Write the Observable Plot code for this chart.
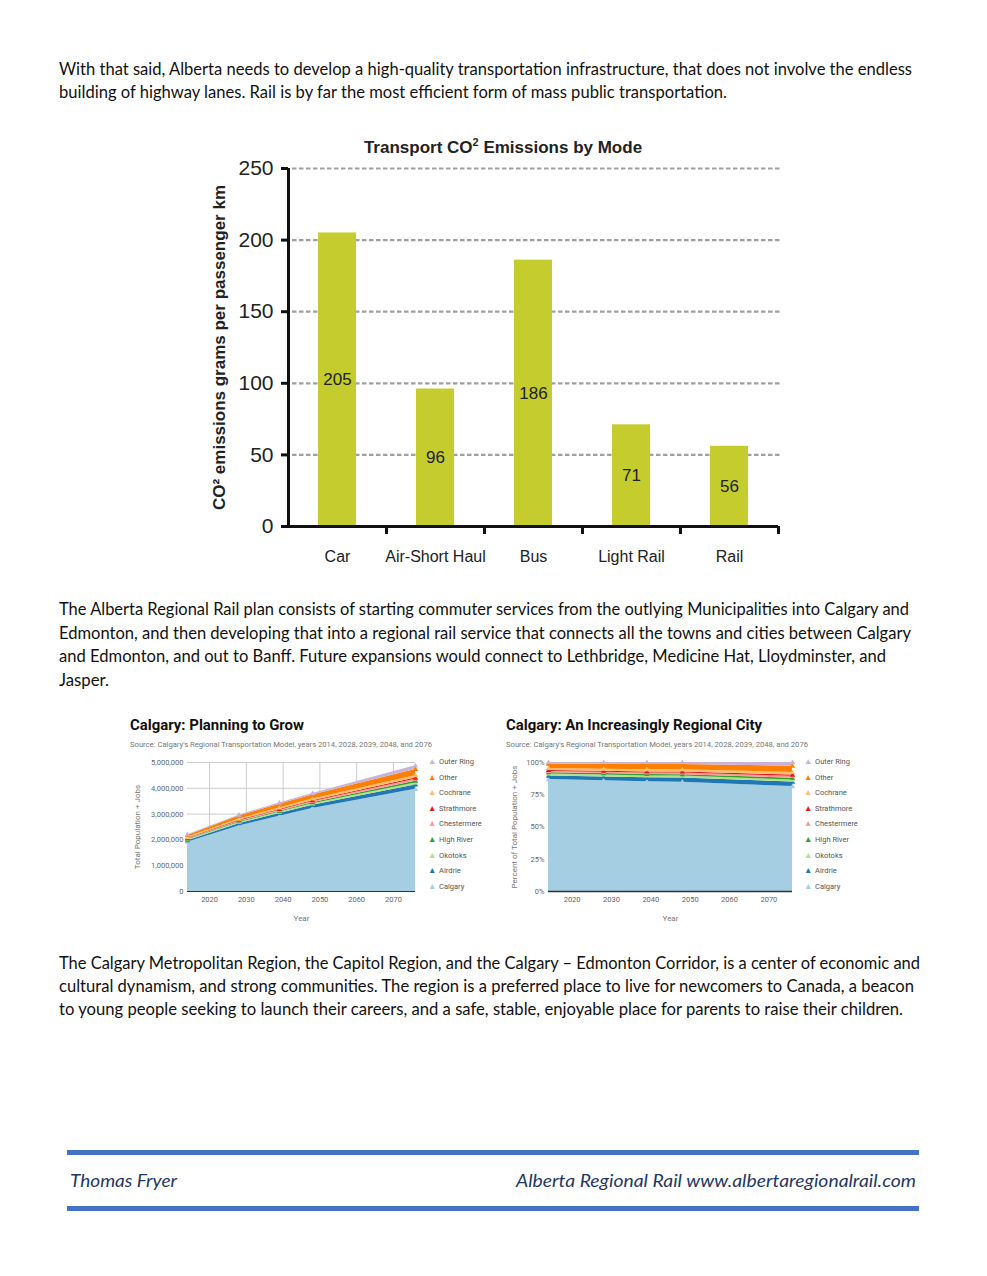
<!DOCTYPE html>
<html><head><meta charset="utf-8">
<script src="https://cdn.jsdelivr.net/npm/d3@7"></script>
<script src="https://cdn.jsdelivr.net/npm/@observablehq/plot@0.6"></script>
<style>
html,body{margin:0;padding:0;background:#fff;}
body{width:987px;height:1276px;position:relative;overflow:hidden;font-family:Lato,"Open Sans",sans-serif;}
.abs{position:absolute;}
.line{position:absolute;left:59px;white-space:nowrap;font-size:16.5px;line-height:23px;color:#111;display:inline-block;transform-origin:left center;}
.rule{position:absolute;left:67px;width:852px;height:5px;background:#4472c4;}
.foot{position:absolute;font-style:italic;font-size:17px;color:#1f3864;white-space:nowrap;transform-origin:left center;}
.stitle{position:absolute;font-family:Roboto,sans-serif;font-weight:bold;font-size:14px;color:#111;white-space:nowrap;transform-origin:left center;}
.ssub{position:absolute;font-family:Roboto,sans-serif;font-size:7.5px;color:#777;white-space:nowrap;transform-origin:left center;}
.legend{position:absolute;font-family:Roboto,sans-serif;font-size:7.5px;color:#555;}
.legend div{height:15.6px;line-height:15.6px;white-space:nowrap;}
.legend span.tri{display:inline-block;width:11px;font-size:8.5px;}
#mainTitle{position:absolute;left:0;width:1006px;text-align:center;top:136px;font-family:"Liberation Sans",Arial,sans-serif;font-weight:bold;font-size:17px;color:#222;}
#mainTitle sup{font-size:11px;}
svg [aria-label="y-axis label"]{font-weight:bold;}
.small svg [aria-label="y-axis label"], .small svg [aria-label="x-axis label"]{font-weight:normal;font-size:8px;fill:#777;}
</style></head>
<body>
<div class="line" style="top:57.5px" data-w="853">With that said, Alberta needs to develop a high-quality transportation infrastructure, that does not involve the endless</div>
<div class="line" style="top:80.5px" data-w="668">building of highway lanes. Rail is by far the most efficient form of mass public transportation.</div>

<div id="mainTitle">Transport CO<sup>2</sup> Emissions by Mode</div>
<div id="main" class="abs" style="left:190px;top:130px"></div>

<div class="line" style="top:597.5px" data-w="850">The Alberta Regional Rail plan consists of starting commuter services from the outlying Municipalities into Calgary and</div>
<div class="line" style="top:621.5px" data-w="852">Edmonton, and then developing that into a regional rail service that connects all the towns and cities between Calgary</div>
<div class="line" style="top:644.5px" data-w="827">and Edmonton, and out to Banff. Future expansions would connect to Lethbridge, Medicine Hat, Lloydminster, and</div>
<div class="line" style="top:668.5px" data-w="50">Jasper.</div>

<div class="stitle" style="left:130px;top:717px" data-w="174">Calgary: Planning to Grow</div>
<div class="ssub" style="left:130px;top:740px" data-w="302">Source: Calgary's Regional Transportation Model, years 2014, 2028, 2039, 2048, and 2076</div>
<div id="grow" class="abs small" style="left:120px;top:752px"></div>
<div id="leg1" class="legend" style="left:428px;top:754px"></div>

<div class="stitle" style="left:506px;top:717px" data-w="256">Calgary: An Increasingly Regional City</div>
<div class="ssub" style="left:506px;top:740px" data-w="302">Source: Calgary's Regional Transportation Model, years 2014, 2028, 2039, 2048, and 2076</div>
<div id="share" class="abs small" style="left:500px;top:752px"></div>
<div id="leg2" class="legend" style="left:804px;top:754px"></div>

<div class="line" style="top:951.5px" data-w="861">The Calgary Metropolitan Region, the Capitol Region, and the Calgary – Edmonton Corridor, is a center of economic and</div>
<div class="line" style="top:974.5px" data-w="855">cultural dynamism, and strong communities. The region is a preferred place to live for newcomers to Canada, a beacon</div>
<div class="line" style="top:997.5px" data-w="844">to young people seeking to launch their careers, and a safe, stable, enjoyable place for parents to raise their children.</div>

<div class="rule" style="top:1150px"></div>
<div class="foot" style="left:70px;top:1170px" data-w="107">Thomas Fryer</div>
<div class="foot" style="left:516px;top:1170px" data-w="400">Alberta Regional Rail www.albertaregionalrail.com</div>
<div class="rule" style="top:1206px"></div>

<script>
// ---- Bar chart data ----
const modes = ["Car", "Air-Short Haul", "Bus", "Light Rail", "Rail"];
const emissions = [205, 96, 186, 71, 56];
const yTicks = [0, 50, 100, 150, 200, 250];

// ---- Calgary growth data (population + jobs) ----
const years = [2014, 2028, 2039, 2048, 2076];
const regions = ["Calgary", "Airdrie", "Okotoks", "High River", "Chestermere", "Strathmore", "Cochrane", "Other", "Outer Ring"];
const calgary     = [1910000, 2540000, 2920000, 3220000, 3960000];
const airdrie     = [60000, 90000, 105000, 120000, 170000];
const okotoks     = [35000, 45000, 52000, 58000, 75000];
const highRiver   = [22000, 30000, 36000, 42000, 70000];
const chestermere = [22000, 30000, 40000, 48000, 75000];
const strathmore  = [18000, 24000, 28000, 31000, 45000];
const cochrane    = [33000, 48000, 60000, 66000, 95000];
const other       = [75000, 115000, 140000, 155000, 240000];
const outerRing   = [27000, 38000, 52000, 58000, 140000];
const regionColors = ["#a6cee3", "#1f78b4", "#b2df8a", "#33a02c", "#fb9a99", "#e31a1c", "#fdbf6f", "#ff7f00", "#cab2d6"];
const popTicks = [0, 1000000, 2000000, 3000000, 4000000, 5000000];
const yearTicks = [2020, 2030, 2040, 2050, 2060, 2070];
const shareTicks = [0, 0.25, 0.5, 0.75, 1];

const barData = modes.map((m, i) => ({mode: m, value: emissions[i]}));
const series = [calgary, airdrie, okotoks, highRiver, chestermere, strathmore, cochrane, other, outerRing];
const rows = [];
regions.forEach((r, j) => years.forEach((y, i) => rows.push({region: r, year: y, value: series[j][i]})));

const step = 490 / modes.length;

const main = Plot.plot({
  width: 600, height: 440,
  marginLeft: 98, marginRight: 12, marginTop: 38, marginBottom: 44,
  style: {fontFamily: "'Liberation Sans', Arial, sans-serif", color: "#222", background: "transparent", overflow: "visible"},
  x: {domain: modes, paddingInner: 0.61, paddingOuter: 0.305, label: null},
  y: {domain: [0, 250], label: null},
  marks: [
    Plot.gridY(yTicks.filter(d => d > 0), {stroke: "#a0a0a0", strokeOpacity: 1, strokeWidth: 2.2, strokeDasharray: "4.5,2.5", dx: 4}),
    Plot.barY(barData, {x: "mode", y: "value", fill: "#c4cc2e"}),
    Plot.text(barData, {x: "mode", y: d => d.value / 2, text: d => String(d.value), fontSize: 17, fill: "#222"}),
    Plot.ruleY([0], {stroke: "#111", strokeWidth: 3}),
    Plot.ruleX([modes[0]], {dx: -step / 2, y1: 0, y2: 250, stroke: "#111", strokeWidth: 3}),
    Plot.axisY({ticks: yTicks, tickSize: 7, tickPadding: 8, fontSize: 21, stroke: "#111", strokeWidth: 3,
      label: "CO² emissions grams per passenger km", labelAnchor: "center", labelArrow: "none", labelOffset: 76}),
    Plot.axisX({tickSize: 0, tickPadding: 24, fontSize: 16, label: null}),
    Plot.axisX({tickSize: 8, tickFormat: () => "", dx: step / 2, stroke: "#111", strokeWidth: 3, label: null})
  ]
});
main.querySelectorAll('[aria-label="y-axis label"]').forEach(g => { g.setAttribute("font-size", 17); g.style.fontSize = "17px"; });
document.getElementById("main").append(main);

const smallStyle = {fontFamily: "Roboto, sans-serif", fontSize: "7.5px", color: "#666", background: "transparent", overflow: "visible"};

const grow = Plot.plot({
  width: 300, height: 180,
  marginLeft: 67, marginRight: 5, marginTop: 10, marginBottom: 41,
  style: smallStyle,
  x: {domain: [2014, 2076], label: null},
  y: {domain: [0, 5000000], label: null},
  color: {domain: regions, range: regionColors},
  marks: [
    Plot.gridX(yearTicks, {stroke: "#ccc", strokeOpacity: 1}),
    Plot.gridY(popTicks, {stroke: "#ccc", strokeOpacity: 1}),
    Plot.areaY(rows, {x: "year", y: "value", z: "region", fill: "region", order: regions, fillOpacity: 1}),
    Plot.dot(rows, Plot.stackY2({x: "year", y: "value", z: "region", fill: "region", order: regions, symbol: "triangle", r: 2})),
    Plot.ruleY([0], {stroke: "#333"}),
    Plot.axisY({ticks: popTicks, tickFormat: d3.format(","), tickSize: 0, tickPadding: 4, label: "Total Population + Jobs", labelAnchor: "center", labelArrow: "none", labelOffset: 53}),
    Plot.axisX({ticks: yearTicks, tickFormat: "d", tickSize: 0, tickPadding: 5, label: "Year", labelAnchor: "center", labelArrow: "none", labelOffset: 29})
  ]
});
document.getElementById("grow").append(grow);

const share = Plot.plot({
  width: 300, height: 180,
  marginLeft: 48, marginRight: 8, marginTop: 10, marginBottom: 41,
  style: smallStyle,
  x: {domain: [2014, 2076], label: null},
  y: {domain: [0, 1], label: null},
  color: {domain: regions, range: regionColors},
  marks: [
    Plot.areaY(rows, {x: "year", y: "value", z: "region", fill: "region", order: regions, offset: "normalize"}),
    Plot.dot(rows, Plot.stackY2({x: "year", y: "value", z: "region", fill: "region", order: regions, offset: "normalize", symbol: "triangle", r: 2})),
    Plot.ruleY([0], {stroke: "#333", strokeWidth: 1.5}),
    Plot.axisY({ticks: shareTicks, tickFormat: d3.format(".0%"), tickSize: 0, tickPadding: 4, label: "Percent of Total Population + Jobs", labelAnchor: "center", labelArrow: "none", labelOffset: 37}),
    Plot.axisX({ticks: yearTicks, tickFormat: "d", tickSize: 0, tickPadding: 5, label: "Year", labelAnchor: "center", labelArrow: "none", labelOffset: 29})
  ]
});
document.getElementById("share").append(share);

function legend(id) {
  const el = document.getElementById(id);
  regions.slice().reverse().forEach(r => {
    const c = regionColors[regions.indexOf(r)];
    const d = document.createElement("div");
    d.innerHTML = `<span class="tri" style="color:${c}">▲</span>${r}`;
    el.append(d);
  });
}
legend("leg1"); legend("leg2");

function fit() {
  document.querySelectorAll("[data-w]").forEach(el => {
    el.style.transform = "none";
    const w = el.getBoundingClientRect().width;
    el.style.transform = `scaleX(${(+el.dataset.w) / w})`;
  });
}
fit();
if (document.fonts && document.fonts.ready) document.fonts.ready.then(fit);
</script>
</body></html>
